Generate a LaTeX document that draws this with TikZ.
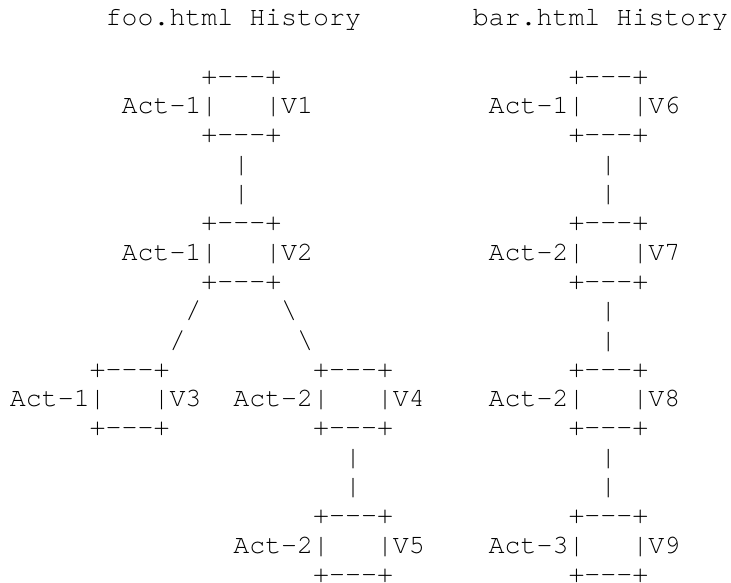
\documentclass[tikz,border=0pt]{standalone}
\usepackage{fontspec}
\setmonofont{texgyrecursor-regular.otf}
\tikzset{
  asc/.style={anchor=base west, inner sep=0pt, outer sep=0pt,
    font=\ttfamily\fontsize{26.6pt}{29pt}\selectfont, text=black}
}
\newcommand\asc[4]{\node[asc] (#1) at (#2,#3) {#4};}
\newcommand\bxline{+---+}
\newcommand\verbox[5]{% name, col of left +, top row, label, version
  \asc{#1t}{#2}{#3}{\bxline}
  \asc{#1m}{#2-5}{#3+1}{#4|\ \ \ |#5}
  \asc{#1b}{#2}{#3+2}{\bxline}
}
\begin{document}
\begin{tikzpicture}
\fill[white] (0pt,0pt) rectangle (731pt,-583pt);
\useasboundingbox (0pt,0pt) rectangle (731pt,-583pt);
\begin{scope}[x=15.96pt, y=-29.32pt, shift={(9.92pt,-25.5pt)}]
  % titles
  \asc{tfoo}{6}{0}{foo.html History}
  \asc{tbar}{29}{0}{bar.html History}
  % foo.html history
  \verbox{va}{12}{2}{Act-1}{V1}
  \asc{cab1}{14}{5}{|}
  \asc{cab2}{14}{6}{|}
  \verbox{vb}{12}{7}{Act-1}{V2}
  \asc{cbc1}{11}{10}{/}
  \asc{cbc2}{10}{11}{/}
  \asc{cbd1}{17}{10}{\textbackslash}
  \asc{cbd2}{18}{11}{\textbackslash}
  \verbox{vc}{5}{12}{Act-1}{V3}
  \verbox{vd}{19}{12}{Act-2}{V4}
  \asc{cde1}{21}{15}{|}
  \asc{cde2}{21}{16}{|}
  \verbox{ve}{19}{17}{Act-2}{V5}
  % bar.html history
  \verbox{vf}{35}{2}{Act-1}{V6}
  \asc{cfg1}{37}{5}{|}
  \asc{cfg2}{37}{6}{|}
  \verbox{vg}{35}{7}{Act-2}{V7}
  \asc{cgh1}{37}{10}{|}
  \asc{cgh2}{37}{11}{|}
  \verbox{vh}{35}{12}{Act-2}{V8}
  \asc{chi1}{37}{15}{|}
  \asc{chi2}{37}{16}{|}
  \verbox{vi}{35}{17}{Act-3}{V9}
\end{scope}
\end{tikzpicture}
\end{document}
